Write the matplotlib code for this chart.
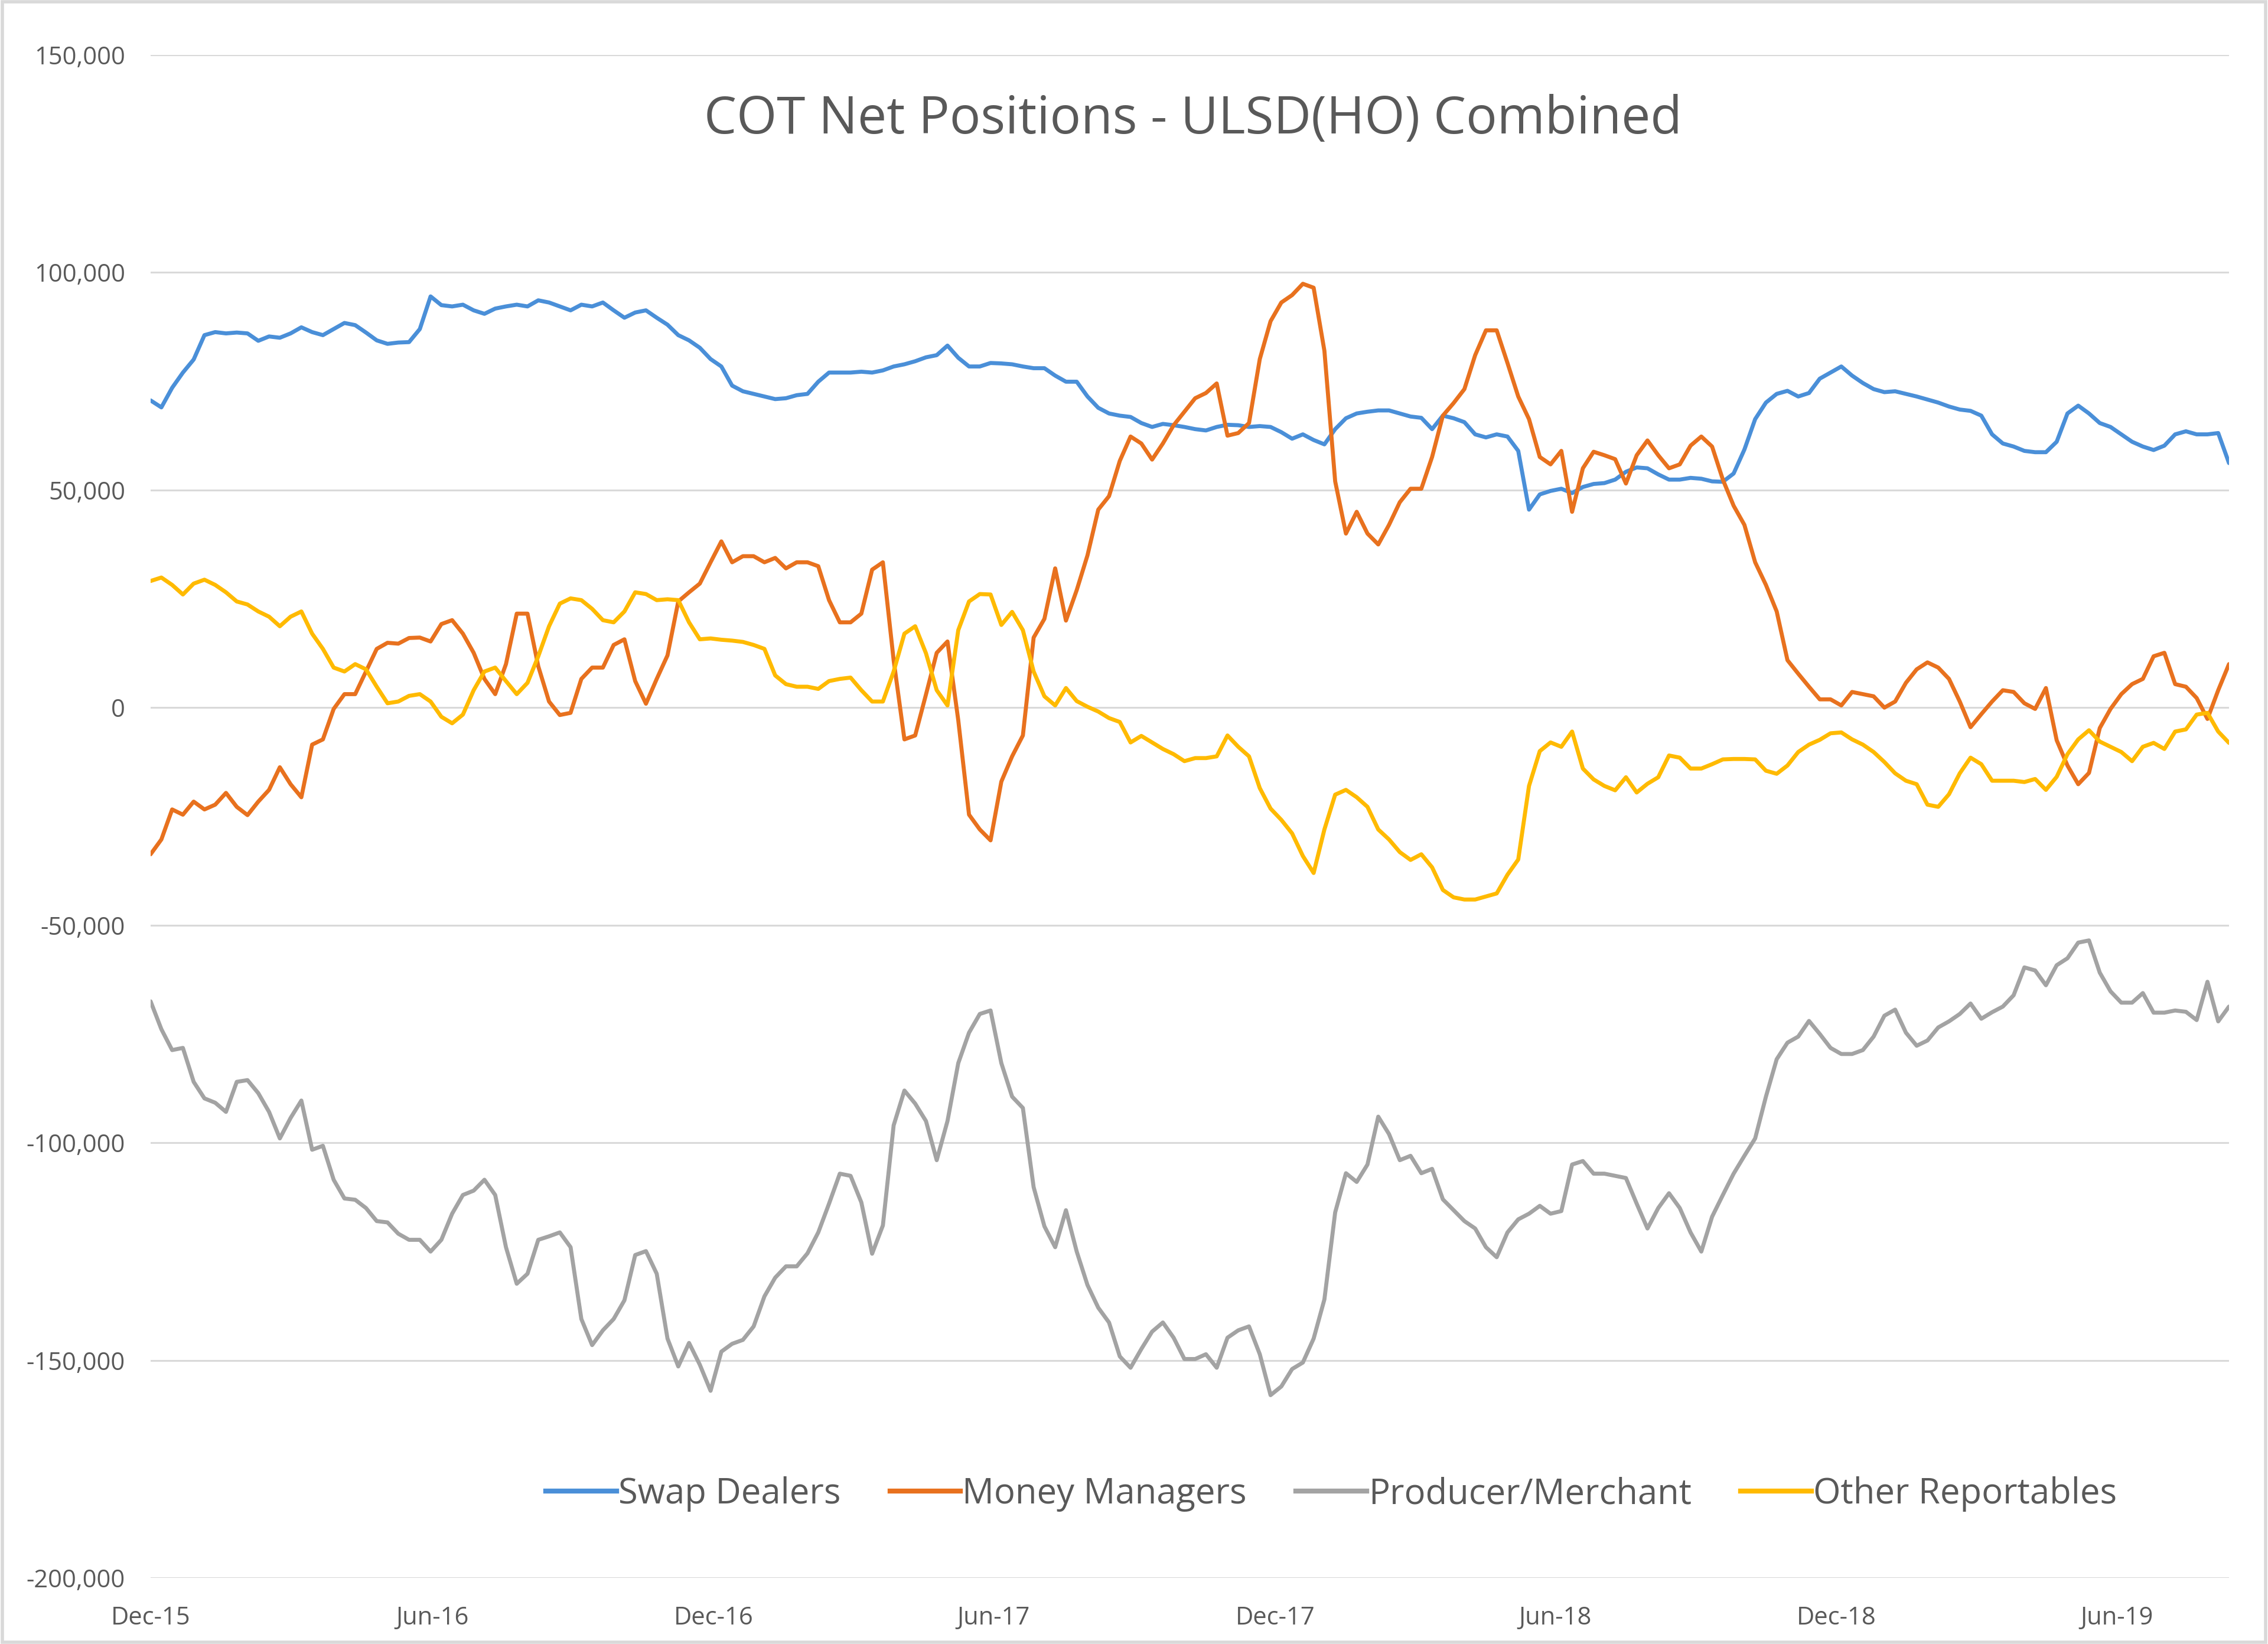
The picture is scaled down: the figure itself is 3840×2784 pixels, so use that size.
import datetime as dt

import matplotlib.dates as mdates
import matplotlib.pyplot as plt
from matplotlib.lines import Line2D
from matplotlib.patches import Rectangle
from matplotlib.ticker import FuncFormatter, MultipleLocator

plt.rcParams["font.family"] = ["Open Sans", "DejaVu Sans"]

# weekly COT reports, first one Tue 1 Dec 2015 (values in thousands of contracts)
START = dt.date(2015, 12, 1)

swap_dealers = [
    70.6, 69.0, 73.5, 77.0, 80.0, 85.6, 86.3, 86.0, 86.2, 86.0,
    84.3, 85.3, 85.0, 86.0, 87.4, 86.3, 85.6, 87.0, 88.4, 87.9,
    86.2, 84.4, 83.6, 83.9, 84.0, 87.0, 94.5, 92.5, 92.2, 92.6,
    91.3, 90.5, 91.7, 92.2, 92.6, 92.2, 93.6, 93.1, 92.2, 91.3,
    92.6, 92.2, 93.1, 91.3, 89.6, 90.8, 91.3, 89.6, 88.0, 85.6,
    84.4, 82.7, 80.1, 78.4, 74.0, 72.7, 72.1, 71.5, 70.9, 71.1,
    71.8, 72.1, 74.9, 77.0, 77.0, 77.0, 77.2, 77.0, 77.5, 78.4,
    78.9, 79.6, 80.5, 81.0, 83.2, 80.4, 78.4, 78.4, 79.2, 79.1,
    78.9, 78.4, 78.0, 78.0, 76.3, 74.9, 74.9, 71.5, 68.9, 67.6,
    67.1, 66.8, 65.4, 64.5, 65.2, 64.9, 64.5, 64.0, 63.7, 64.5,
    65.0, 64.9, 64.5, 64.7, 64.5, 63.3, 61.8, 62.8, 61.5, 60.5,
    64.0, 66.5, 67.6, 68.0, 68.3, 68.3, 67.6, 66.9, 66.6, 64.0,
    67.1, 66.5, 65.6, 62.8, 62.1, 62.8, 62.3, 59.0, 45.5, 49.0,
    49.8, 50.3, 49.3, 50.7, 51.4, 51.6, 52.4, 54.2, 55.2, 55.0,
    53.6, 52.4, 52.4, 52.8, 52.6, 52.0, 51.9, 53.8, 59.3, 66.3,
    70.1, 72.1, 72.8, 71.5, 72.3, 75.6, 77.0, 78.4, 76.3, 74.6,
    73.2, 72.5, 72.7, 72.1, 71.5, 70.8, 70.1, 69.2, 68.5, 68.2,
    67.1, 62.8, 60.7, 60.0, 59.0, 58.7, 58.7, 61.1, 67.6, 69.4,
    67.6, 65.4, 64.5, 62.8, 61.1, 60.0, 59.2, 60.2, 62.8, 63.5,
    62.8, 62.8, 63.1, 56.2,
]

money_managers = [
    -33.7, -30.3, -23.4, -24.6, -21.6, -23.4, -22.3, -19.6, -22.8, -24.7,
    -21.6, -18.9, -13.7, -17.6, -20.6, -8.5, -7.3, -0.3, 3.1, 3.1,
    8.3, 13.5, 14.9, 14.7, 16.0, 16.1, 15.2, 19.2, 20.1, 17.0,
    12.6, 6.6, 3.1, 10.0, 21.6, 21.6, 9.5, 1.4, -1.7, -1.2,
    6.6, 9.2, 9.2, 14.4, 15.7, 6.1, 0.9, 6.6, 12.0, 24.4,
    26.5, 28.5, 33.4, 38.2, 33.4, 34.8, 34.8, 33.4, 34.4, 32.0,
    33.4, 33.4, 32.5, 24.7, 19.6, 19.6, 21.6, 31.7, 33.4, 10.9,
    -7.3, -6.4, 3.0, 12.6, 15.2, -2.9, -24.6, -28.0, -30.5, -17.0,
    -11.2, -6.4, 16.1, 20.4, 32.0, 20.0, 27.0, 35.0, 45.5, 48.6,
    56.7, 62.3, 60.7, 57.0, 60.7, 64.9, 68.0, 71.1, 72.3, 74.5,
    62.5, 63.1, 65.4, 80.1, 88.8, 93.1, 94.8, 97.4, 96.5, 82.0,
    52.0, 40.0, 45.0, 40.0, 37.5, 42.0, 47.2, 50.3, 50.3, 57.6,
    67.1, 70.0, 73.2, 81.0, 86.7, 86.7, 79.2, 71.5, 66.3, 57.6,
    55.9, 59.0, 45.0, 55.0, 58.8, 58.0, 57.1, 51.5, 58.0, 61.4,
    58.0, 55.0, 55.9, 60.2, 62.3, 60.0, 52.4, 46.4, 42.0, 33.4,
    28.2, 22.1, 10.9, 7.8, 4.8, 1.9, 1.9, 0.5, 3.6, 3.1,
    2.6, 0.0, 1.4, 5.7, 8.8, 10.4, 9.2, 6.6, 1.4, -4.5,
    -1.5, 1.4, 4.0, 3.6, 1.0, -0.3, 4.5, -7.5, -13.3, -17.6,
    -15.0, -4.7, -0.3, 3.1, 5.4, 6.6, 11.8, 12.6, 5.4, 4.8,
    2.2, -2.6, 4.0, 10.0,
]

producer_merchant = [
    -67.5, -73.9, -78.7, -78.2, -86.0, -89.8, -90.8, -92.9, -86.0, -85.6,
    -88.6, -92.9, -99.0, -94.3, -90.3, -101.6, -100.7, -108.5, -112.8, -113.1,
    -115.0, -118.0, -118.3, -120.9, -122.3, -122.3, -125.0, -122.3, -116.3, -112.0,
    -111.0, -108.5, -112.0, -124.0, -132.4, -130.1, -122.3, -121.5, -120.6, -124.0,
    -140.5, -146.5, -143.1, -140.5, -136.2, -125.8, -124.9, -130.1, -145.0, -151.4,
    -146.0, -151.0, -157.0, -148.0, -146.2, -145.3, -142.2, -135.3, -131.0, -128.4,
    -128.4, -125.4, -120.6, -114.0, -107.1, -107.6, -113.7, -125.5, -119.0, -96.0,
    -88.0, -91.0, -95.0, -104.0, -95.0, -81.7, -74.7, -70.4, -69.6, -81.7,
    -89.4, -92.0, -110.2, -119.2, -124.0, -115.5, -125.0, -132.7, -137.9, -141.3,
    -149.1, -151.7, -147.4, -143.4, -141.3, -144.8, -149.7, -149.7, -148.6, -151.7,
    -144.8, -143.1, -142.2, -148.6, -158.0, -156.0, -152.0, -150.5, -145.0, -136.0,
    -116.0, -107.0, -109.0, -105.0, -94.0, -98.0, -104.0, -103.0, -107.0, -106.0,
    -113.0, -115.5, -118.0, -119.7, -124.0, -126.3, -120.6, -117.6, -116.3, -114.5,
    -116.3, -115.7, -105.0, -104.2, -107.1, -107.1, -107.6, -108.1, -114.0, -119.7,
    -115.0, -111.6, -115.0, -120.6, -125.0, -117.0, -112.0, -107.1, -103.0, -99.0,
    -89.4, -80.8, -77.0, -75.6, -72.0, -75.0, -78.2, -79.6, -79.6, -78.7,
    -75.6, -70.8, -69.4, -74.7, -77.7, -76.5, -73.5, -72.1, -70.4, -68.0,
    -71.5, -70.0, -68.7, -66.1, -59.7, -60.4, -63.8, -59.2, -57.6, -54.0,
    -53.5, -60.9, -65.2, -67.8, -67.8, -65.6, -70.1, -70.1, -69.6, -69.9,
    -71.8, -63.0, -72.1, -68.7,
]

other_reportables = [
    29.1, 29.9, 28.2, 26.0, 28.5, 29.4, 28.2, 26.5, 24.4, 23.7,
    22.1, 20.9, 18.7, 20.9, 22.1, 17.0, 13.5, 9.2, 8.3, 10.0,
    8.8, 4.8, 1.0, 1.4, 2.7, 3.1, 1.4, -2.1, -3.6, -1.6,
    4.0, 8.3, 9.2, 6.1, 3.1, 5.7, 11.8, 18.7, 23.9, 25.1,
    24.7, 22.7, 20.1, 19.6, 22.1, 26.5, 26.1, 24.7, 24.9, 24.7,
    19.6, 15.7, 15.9, 15.6, 15.4, 15.1, 14.4, 13.5, 7.4, 5.4,
    4.8, 4.8, 4.3, 6.1, 6.6, 6.9, 4.0, 1.4, 1.4, 8.3,
    17.0, 18.7, 12.5, 4.0, 0.5, 17.8, 24.4, 26.1, 26.0, 19.0,
    22.0, 17.8, 8.3, 2.6, 0.5, 4.5, 1.5, 0.2, -0.9, -2.4,
    -3.3, -8.0, -6.5, -8.0, -9.5, -10.7, -12.3, -11.6, -11.6, -11.2,
    -6.4, -9.0, -11.2, -18.5, -23.2, -25.8, -28.9, -34.1, -38.0, -28.0,
    -20.0, -18.9, -20.6, -22.8, -28.0, -30.3, -33.2, -35.0, -33.7, -36.7,
    -41.9, -43.6, -44.1, -44.1, -43.4, -42.7, -38.4, -34.9, -18.0, -10.0,
    -8.0, -9.0, -5.5, -14.0, -16.5, -18.0, -19.0, -16.0, -19.5, -17.5,
    -16.0, -11.0, -11.5, -14.0, -14.0, -13.0, -11.9, -11.8, -11.8, -11.9,
    -14.5, -15.2, -13.3, -10.2, -8.5, -7.4, -5.9, -5.7, -7.3, -8.5,
    -10.2, -12.5, -15.1, -16.8, -17.6, -22.3, -22.8, -19.9, -15.1, -11.5,
    -13.0, -16.8, -16.8, -16.8, -17.1, -16.4, -18.9, -15.9, -10.7, -7.3,
    -5.2, -7.8, -9.0, -10.2, -12.3, -9.0, -8.1, -9.5, -5.5, -5.0,
    -1.6, -1.2, -5.5, -8.1,
]

SERIES = {
    "Swap Dealers": (swap_dealers, "#4A8FD8"),
    "Money Managers": (money_managers, "#E8711E"),
    "Producer/Merchant": (producer_merchant, "#A3A3A3"),
    "Other Reportables": (other_reportables, "#FFBA00"),
}
TEXT_COLOR = "#595959"
GRID_COLOR = "#D9D9D9"

dates = [START + dt.timedelta(weeks=i) for i in range(len(swap_dealers))]

fig = plt.figure(figsize=(38.4, 27.84), dpi=100)
ax = fig.add_axes([0.0664, 0.0402, 0.9164, 0.9264])

for name, (values, color) in SERIES.items():
    ax.plot(dates, [v * 1000 for v in values], color=color, linewidth=4.9,
            solid_joinstyle="round", solid_capstyle="round", label=name)

# ===== axes =====
ax.set_xlim(dates[0], dates[-1])
ax.set_ylim(-200000, 150000)
ax.yaxis.set_major_locator(MultipleLocator(50000))
ax.yaxis.set_major_formatter(FuncFormatter(lambda v, _: f"{v:,.0f}"))

tick_dates = [dt.date(y, m, 1) for y in range(2015, 2020) for m in (6, 12)]
tick_dates = [d for d in tick_dates if dates[0] <= d <= dates[-1]]
ax.set_xticks(tick_dates)
ax.xaxis.set_major_formatter(mdates.DateFormatter("%b-%y"))

ax.tick_params(axis="y", length=0, pad=31, labelsize=30, labelcolor=TEXT_COLOR)
ax.tick_params(axis="x", length=0, pad=34, labelsize=30, labelcolor=TEXT_COLOR)
ax.grid(axis="y", color=GRID_COLOR, linewidth=2.2)
ax.set_axisbelow(True)
for spine in ax.spines.values():
    spine.set_visible(False)

# ===== title & legend (inside the plot area, Excel style) =====
fig.text(0.526, 0.927, "COT Net Positions - ULSD(HO) Combined",
         ha="center", va="center", fontsize=63, color=TEXT_COLOR)

handles = [Line2D([], [], color=c, linewidth=6) for _, c in SERIES.values()]
fig.legend(handles, list(SERIES.keys()), loc="center", bbox_to_anchor=(0.587, 0.0912),
           ncol=4, frameon=False, fontsize=43, labelcolor=TEXT_COLOR,
           handlelength=2.0, handletextpad=0.05, columnspacing=1.4)

# chart area border
fig.patches.append(Rectangle((0.001, 0.001), 0.998, 0.998, transform=fig.transFigure,
                             fill=False, edgecolor=GRID_COLOR, linewidth=4))

fig.savefig("out.png", dpi=100, facecolor="white")
